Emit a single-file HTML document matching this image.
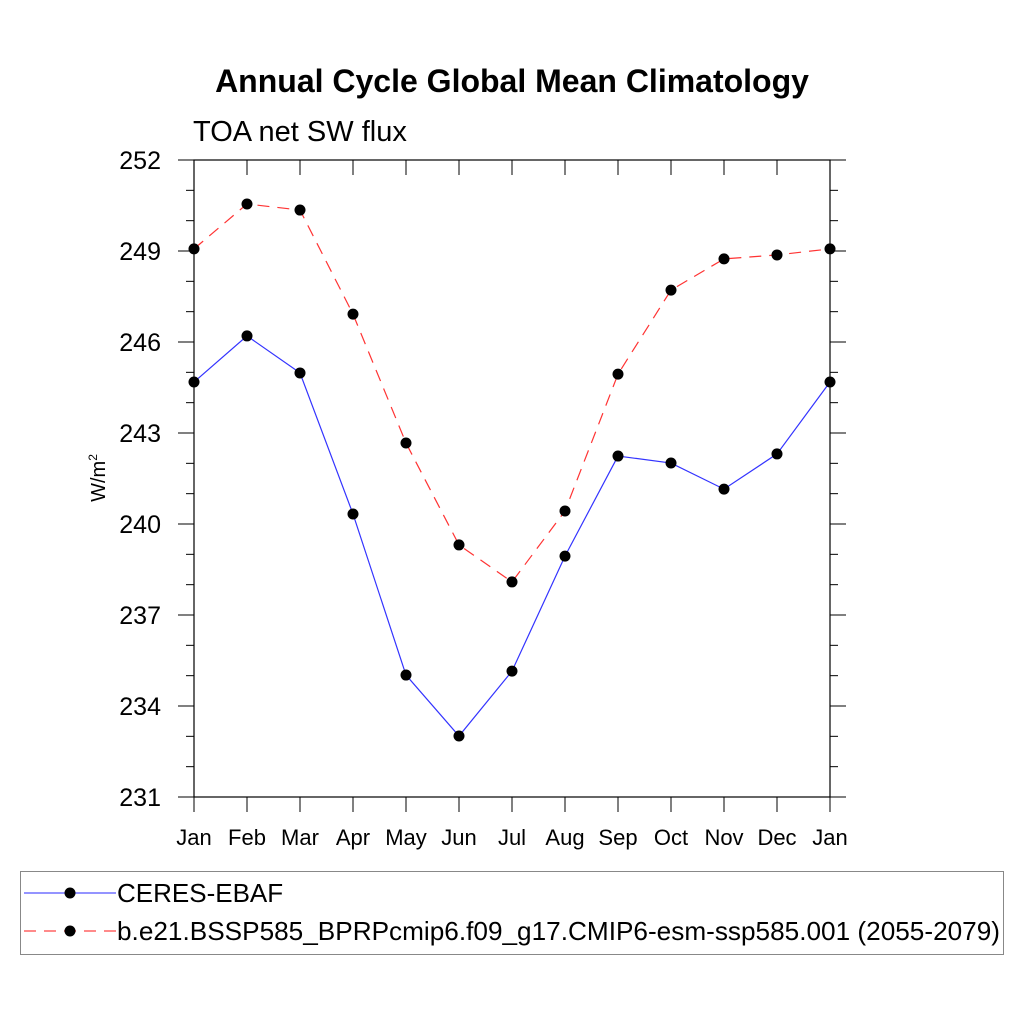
<!DOCTYPE html>
<html><head><meta charset="utf-8"><style>
body{margin:0;background:#fff}
svg{display:block;font-family:"Liberation Sans",sans-serif}
</style></head><body>
<svg id="chart" width="1024" height="1024" viewBox="0 0 1024 1024">
<text x="512" y="92" font-size="32" font-weight="bold" text-anchor="middle">Annual Cycle Global Mean Climatology</text>
<text x="193" y="141" font-size="29">TOA net SW flux</text>
<text transform="translate(105,478) rotate(-90)" font-size="20" text-anchor="middle">W/m<tspan font-size="12" dy="-8">2</tspan></text>
<g id="axes"></g>
<g id="series"></g>
<rect x="20.5" y="871.5" width="983" height="83" fill="none" stroke="#888" stroke-width="1"/>
<g>
<line x1="24" y1="893" x2="116" y2="893" stroke="#5555ff" stroke-width="1.2"/>
<circle cx="70" cy="893" r="5.5" fill="#000"/>
<text x="117" y="902" font-size="26">CERES-EBAF</text></g>
<g>
<line x1="24" y1="931" x2="116" y2="931" stroke="#ff4444" stroke-width="1.2" stroke-dasharray="12,8"/>
<circle cx="70" cy="931" r="5.5" fill="#000"/>
<text x="117" y="940" font-size="26" textLength="883" lengthAdjust="spacingAndGlyphs">b.e21.BSSP585_BPRPcmip6.f09_g17.CMIP6-esm-ssp585.001 (2055-2079)</text></g>
</svg>
<script>
const months = ["Jan","Feb","Mar","Apr","May","Jun","Jul","Aug","Sep","Oct","Nov","Dec","Jan"];
const ceresValues = [244.68,246.2,244.98,240.33,235.02,233.01,235.15,238.94,242.24,242.01,241.15,242.31,244.68];
const modelValues = [249.07,250.55,250.35,246.92,242.67,239.31,238.09,240.43,244.94,247.71,248.74,248.87,249.07];
const yTicks = [231,234,237,240,243,246,249,252];
const yMin = 231, yMax = 252;
const L=194,R=830,T=160,B=797;
const NS="http://www.w3.org/2000/svg";
function xS(i){return L+(R-L)*i/(months.length-1);}
function yS(v){return B-(v-yMin)/(yMax-yMin)*(B-T);}
function mk(tag,attrs,parent){const e=document.createElementNS(NS,tag);for(const k in attrs)e.setAttribute(k,attrs[k]);parent.appendChild(e);return e;}
const ax=document.getElementById('axes');
const frame=mk('rect',{x:L,y:T,width:R-L,height:B-T,fill:'none',stroke:'#000','stroke-width':1.2},ax);


for(let v=yMin;v<=yMax;v++){
  const y=yS(v);const major=(v-yMin)%3===0;const len=major?16:8;
  mk('line',{x1:L-len,y1:y,x2:L,y2:y,stroke:'#000','stroke-width':1},ax);
  mk('line',{x1:R,y1:y,x2:R+len,y2:y,stroke:'#000','stroke-width':1},ax);
}
yTicks.forEach(v=>{
  const t=mk('text',{x:L-33,y:yS(v)+9,'font-size':25,'text-anchor':'end'},ax);
  t.textContent=v;
  
  
});
months.forEach((m,i)=>{
  const x=xS(i);
  mk('line',{x1:x,y1:B,x2:x,y2:B+15,stroke:'#000','stroke-width':1},ax);
  mk('line',{x1:x,y1:T,x2:x,y2:T+15,stroke:'#000','stroke-width':1},ax);
  const t=mk('text',{x:x,y:B+48,'font-size':22,'text-anchor':'middle'},ax);
  t.textContent=m;
  
  
});
const sg=document.getElementById('series');
function drawSeries(vals,color,dash,name){
  const pts=vals.map((v,i)=>xS(i)+','+yS(v)).join(' ');
  const a={points:pts,fill:'none',stroke:color,'stroke-width':1.2};
  if(dash)a['stroke-dasharray']=dash;
  const pl=mk('polyline',a,sg);
  
  
  vals.forEach((v,i)=>{
    const c=mk('circle',{cx:xS(i),cy:yS(v),r:5.5,fill:'#000'},sg);
    
    
  });
}
drawSeries(ceresValues,'#3333ff',null,'ceres');
drawSeries(modelValues,'#ff3333','12,8','model');
</script>
</body></html>
